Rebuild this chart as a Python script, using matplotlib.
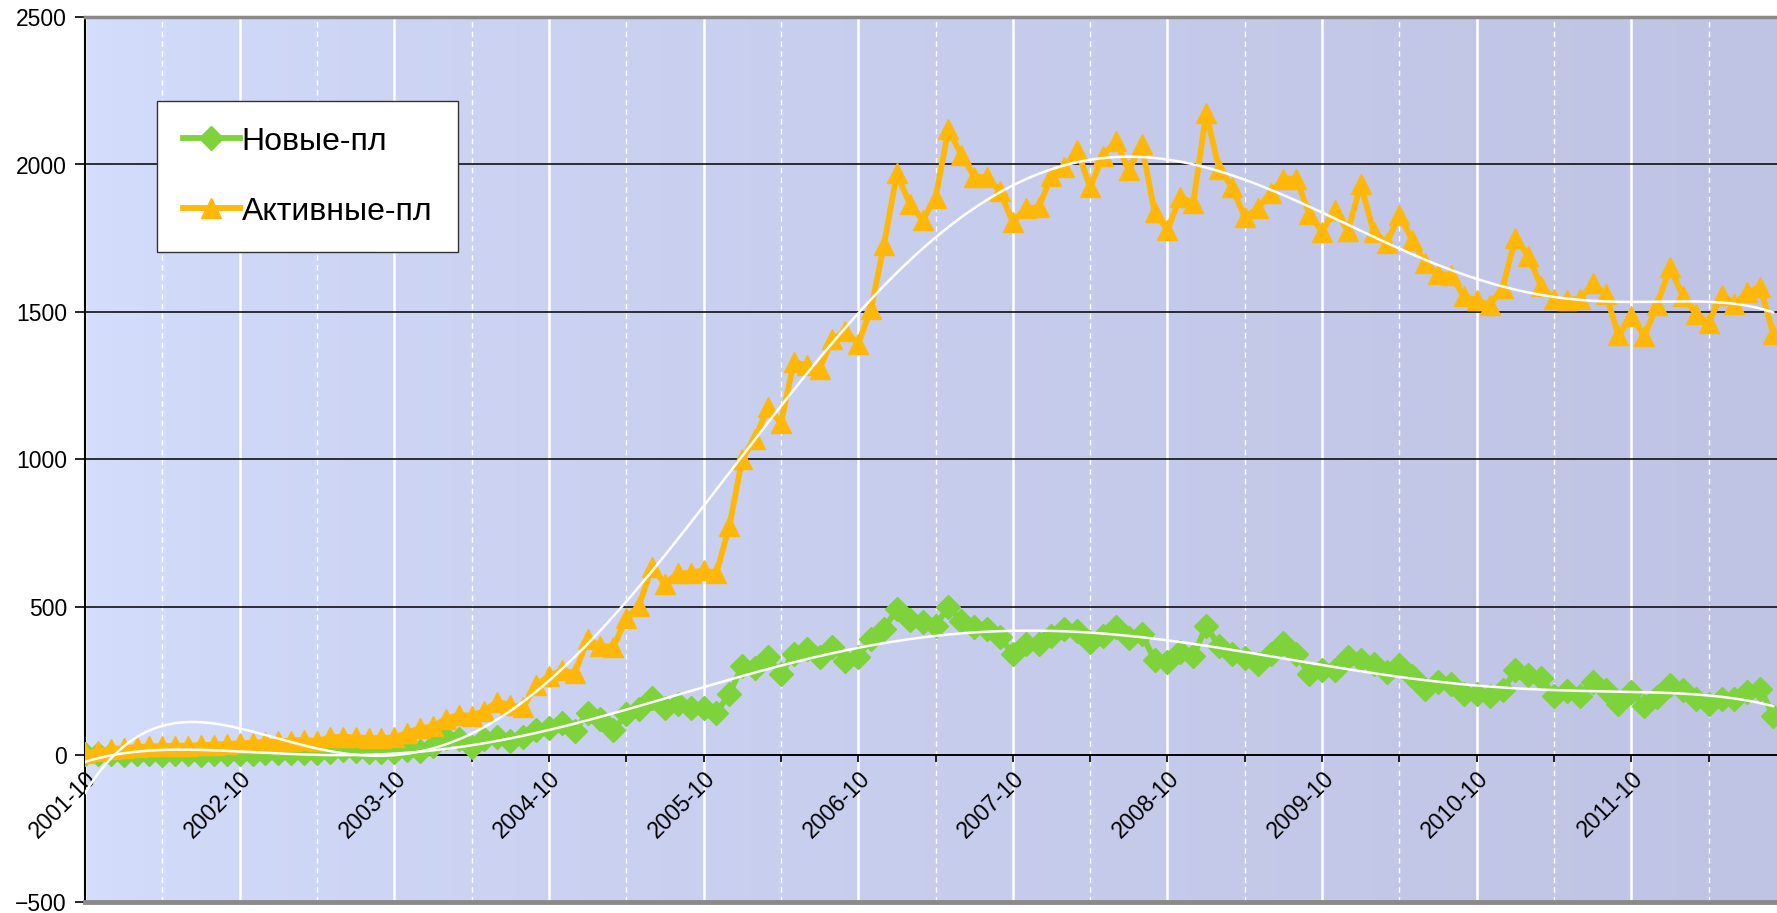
import numpy as np
import matplotlib
matplotlib.use('Agg')
import matplotlib.pyplot as plt

plt.rcParams['font.family'] = ['Liberation Sans', 'DejaVu Sans']

# monthly values, 2001-10 .. 2012-09
new_pl = [2, 3, 2, 0, 1, 2, 0, 1, 2, 0, 1, 2, 3, 3, 4, 4, 5, 5, 6, 8, 15, 12, 10, 8, 10,
          15, 12, 30, 57, 51, 26, 51, 59, 46, 59, 82, 91, 108, 80, 142, 119, 82, 136, 153, 192, 159, 170, 159, 158, 142,
          205, 301, 294, 329, 274, 342, 356, 329, 363, 318, 331, 391, 425, 494, 455, 450, 436, 501, 453, 432, 425, 398, 340,
          376, 376, 403, 424, 417, 383, 403, 431, 396, 410, 320, 314, 348, 334, 434, 369, 341, 327, 307, 341, 379, 341, 272, 286,
          285, 330, 322, 308, 279, 302, 266, 223, 245, 240, 206, 206, 200, 217, 285, 270, 259, 200, 214, 200, 245, 217, 172,
          211, 166, 195, 234, 217, 189, 172, 189, 187, 211, 223, 132]

active_pl = [5, 12, 18, 22, 25, 28, 28, 30, 30, 32, 33, 36, 38, 40, 42, 45, 47, 50, 45, 58, 60, 58, 56, 55, 58,
             73, 90, 95, 121, 134, 132, 148, 179, 168, 160, 235, 266, 286, 275, 390, 369, 364, 462, 505, 637, 577, 615, 615, 625, 615,
             774, 1002, 1071, 1177, 1123, 1330, 1320, 1308, 1407, 1436, 1393, 1510, 1728, 1970, 1866, 1811, 1887, 2119, 2032, 1959, 1956, 1909, 1805,
             1852, 1855, 1961, 1993, 2048, 1924, 2029, 2080, 1980, 2068, 1839, 1778, 1891, 1869, 2174, 1985, 1924, 1822, 1851, 1905, 1952, 1952, 1833, 1772,
             1847, 1774, 1933, 1771, 1734, 1828, 1743, 1666, 1630, 1625, 1553, 1539, 1524, 1581, 1751, 1690, 1587, 1543, 1542, 1543, 1597, 1562, 1421,
             1485, 1418, 1524, 1653, 1553, 1494, 1463, 1559, 1527, 1567, 1585, 1427]

tick_labels = ['2001-10', '2002-10', '2003-10', '2004-10', '2005-10', '2006-10',
               '2007-10', '2008-10', '2009-10', '2010-10', '2011-10']

x = np.arange(len(new_pl))
xmax = 131.3

fig = plt.figure(figsize=(17.77, 9.13), dpi=100)
ax = fig.add_axes([85 / 1777, 11 / 913, 1 - 85 / 1777, 885 / 913])

# axis line crosses at 0 (set before ticks, it resets them)
ax.spines['bottom'].set_position(('data', 0))
ax.spines['bottom'].set_linewidth(1.2)
ax.spines['left'].set_linewidth(1.5)
ax.spines['right'].set_visible(False)
ax.spines['top'].set_color('#8a8a8a')
ax.spines['top'].set_linewidth(2.5)

# background gradient
t = np.linspace(0, 1, 300) ** 0.6
c0 = np.array([0.835, 0.871, 0.992])
c1 = np.array([0.753, 0.769, 0.894])
grad = (c0 + (c1 - c0) * t[:, None])[None, :, :]
ax.imshow(grad, extent=[0, xmax, -500, 2500], aspect='auto', zorder=0, interpolation='bicubic')

ax.plot(x, new_pl, color='#7ED23A', lw=4.2, marker='D', ms=12, mec='#7ED23A',
        zorder=3, label='Новые-пл')
ax.plot(x, active_pl, color='#FFB80A', lw=4.2, marker='^', ms=14, mec='#FFB80A',
        zorder=3.5, label='Активные-пл')

# polynomial trend lines (order 6)
xx = np.linspace(0, len(x) - 1, 500)
for vals in (new_pl, active_pl):
    p = np.polynomial.Polynomial.fit(x, vals, 6)
    ax.plot(xx, p(xx), color='white', lw=1.8, zorder=4)

ax.set_xlim(0, xmax)
ax.set_ylim(-500, 2500)
ax.set_yticks(range(-500, 2501, 500))
ax.set_xticks(range(0, 121, 12))
ax.set_xticks(range(6, 132, 12), minor=True)
ax.set_xticklabels(tick_labels, rotation=45, ha='right', va='top', rotation_mode='anchor')

ax.axhline(-500, color='#8a8a8a', lw=3.5, zorder=5, clip_on=False)

ax.tick_params(axis='x', which='both', direction='out', length=5, width=1.2, labelsize=16.5, pad=4)
ax.tick_params(axis='y', direction='out', length=7, width=1.2, labelsize=16.5, pad=6)

ax.set_axisbelow(True)
ax.grid(axis='y', color='black', lw=1.1)
ax.grid(axis='x', which='major', color='white', lw=1.8)
ax.grid(axis='x', which='minor', color='white', lw=1.0, ls=(0, (4, 3)))

leg = ax.legend(loc='upper left', bbox_to_anchor=(0.0426, 0.905), fontsize=23, frameon=True,
                fancybox=False, edgecolor='#333333', framealpha=1, handlelength=1.8,
                handletextpad=0.05, labelspacing=1.25, borderpad=0.8, borderaxespad=0)
leg.get_frame().set_linewidth(1.0)

fig.savefig('out.png', dpi=100)
